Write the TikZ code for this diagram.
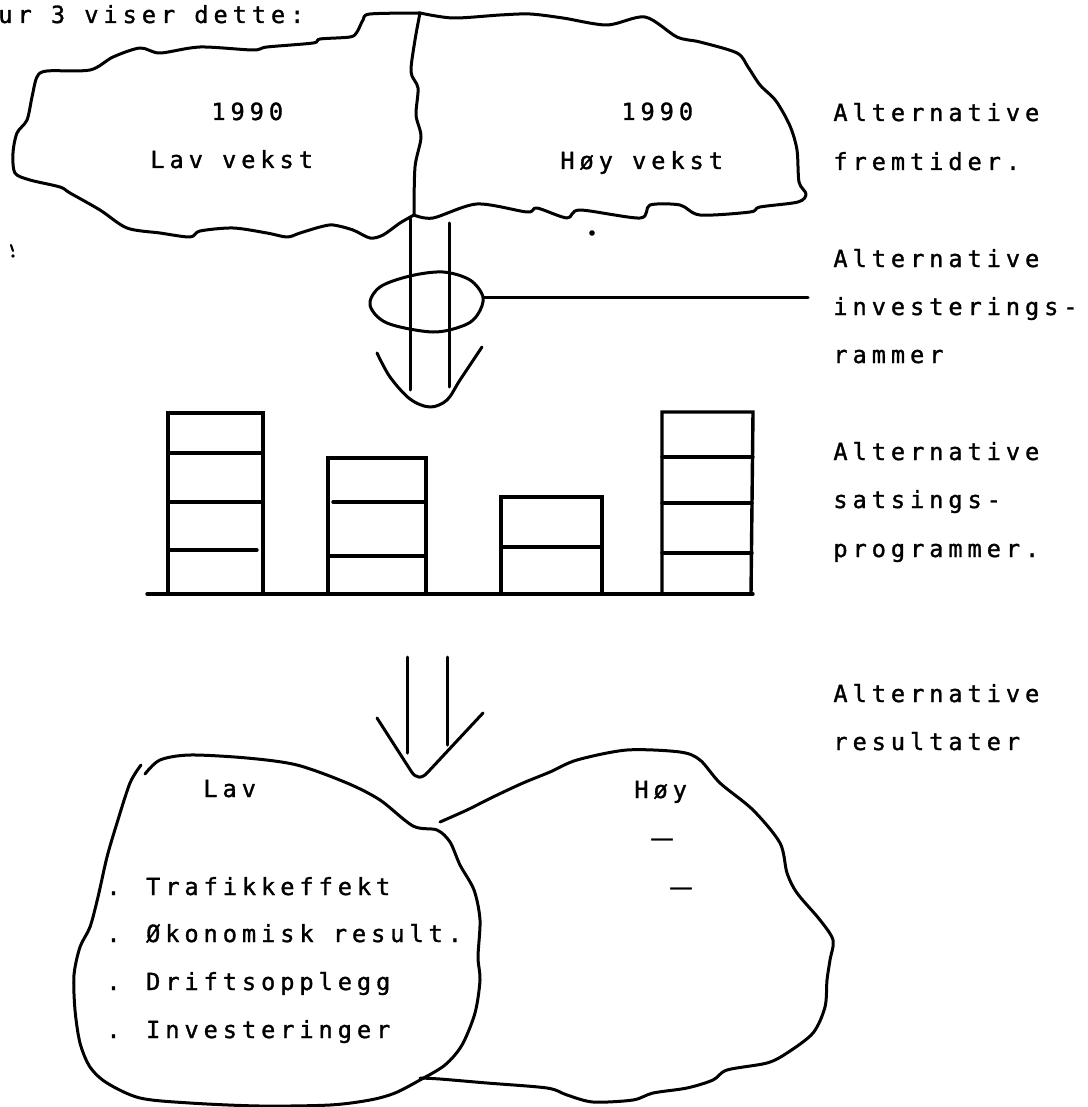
\documentclass[tikz,border=0pt]{standalone}
\usepackage{fontspec}
\newfontfamily\tw[LetterSpace=21,FakeBold=1.3]{DejaVu Sans Mono}
\begin{document}
\begin{tikzpicture}[x=0.5pt,y=-0.5pt,
  ink/.style={line width=1.5pt, line join=round, line cap=round},
  bar/.style={line width=1.7pt, line cap=round},
  txt/.style={font=\tw\fontsize{11.8pt}{14pt}\selectfont, anchor=base west, inner sep=0pt, text=black}]
\useasboundingbox (0,0) rectangle (1087,1107);
\fill[white] (0,0) rectangle (1087,1107);

% ---------- heading ----------
\node[txt] (head) at (-2,23) {ur 3 viser dette:};

% ---------- top blob (alternative futures) ----------
\draw[ink] plot[smooth, tension=0.5] coordinates {(420,13) (370,14) (363,20) (357,32) (350,37) (320,39) (313,43) (267,47) (253,50) (200,47) (160,53) (140,48) (113,57) (90,70) (47,71) (37,77) (32,97) (27,120) (17,133) (13,153) (15,173) (30,180) (60,187) (70,193) (100,210) (127,228) (160,233) (190,237) (200,231) (233,228) (267,233) (287,237) (300,233) (320,227) (333,225) (353,230) (370,238) (383,235) (400,223) (414,215)};
\draw[ink] plot[smooth, tension=0.5] coordinates {(420,13) (453,18) (500,15) (530,14) (563,18) (607,25) (645,17) (677,37) (700,42) (737,53) (748,67) (760,85) (776,101) (790,126) (797,150) (799,182) (806,194) (798,202) (760,207) (750,212) (700,215) (680,205) (650,205) (640,218) (580,210) (567,218) (537,208) (527,212) (477,204) (433,218) (414,215)};
\draw[ink] plot[smooth, tension=0.5] coordinates {(420,13) (415,40) (411,72) (418,88) (416,115) (421,137) (415,167) (414,214)};

\node[txt] (y1) at (211,120) {1990};
\node[txt] (lv) at (150,168) {Lav vekst};
\node[txt] (y2) at (621,120) {1990};
\node[txt] (hv) at (560,169) {Høy vekst};

% specks
\fill (592,233) circle[radius=1.4pt];
\draw[line width=1.1pt, line cap=round] (11,245) -- (13,251);
\fill (13,256) circle[radius=0.9pt];

% ---------- first double arrow with investment frame ----------
\coordinate (a1s) at (410,217); \coordinate (a1e) at (410,390);
\coordinate (a2s) at (449,223); \coordinate (a2e) at (449,387);
\draw[ink] (a1s) -- (a1e);
\draw[ink] (a2s) -- (a2e);
\coordinate (tip) at (483,297);
\coordinate (lend) at (808,297);
\draw[ink] plot[smooth cycle, tension=0.55] coordinates {(483,297) (470,280) (443,272) (410,276) (380,287) (370,305) (387,323) (433,332) (465,325) (478,314)};
\draw[ink] (tip) -- (lend);
\draw[ink] plot[smooth, tension=0.55] coordinates {(377,353) (390,377) (410,399) (430,407) (447,400) (460,380) (482,347)};

% ---------- bars ----------
\draw[bar] (147,594) -- (753,594);
% bar 1
\draw[bar] (168,594) -- (168,413) -- (263,413) -- (263,594);
\draw[bar] (168,453) -- (263,453);
\draw[bar] (168,502) -- (263,502);
\draw[bar] (168,550) -- (257,550);
% bar 2
\draw[bar] (328,594) -- (328,458) -- (426,458) -- (426,594);
\draw[bar] (333,502) -- (426,502);
\draw[bar] (328,556) -- (426,556);
% bar 3
\draw[bar] (501,594) -- (501,497) -- (602,497) -- (602,594);
\draw[bar] (501,547) -- (602,547);
% bar 4
\draw[bar] (662,594) -- (662,412) -- (753,412) -- (751,594);
\draw[bar] (662,457) -- (753,457);
\draw[bar] (662,503) -- (752,503);
\draw[bar] (662,553) -- (752,553);

% ---------- second double arrow ----------
\coordinate (b1s) at (407,657); \coordinate (b1e) at (407,753);
\coordinate (b2s) at (447,657); \coordinate (b2e) at (447,745);
\draw[ink] (b1s) -- (b1e);
\draw[ink] (b2s) -- (b2e);
\draw[ink] (377,718) -- (411,771) .. controls (416,779) and (422,779) .. (428,772) -- (483,713);

% ---------- bottom blobs (results) ----------
\draw[ink] plot[smooth, tension=0.5] coordinates {(145,774) (160,760) (190,755) (247,758) (297,765) (347,783) (380,800) (413,826) (437,830) (450,842) (460,865) (474,890) (480,920) (478,957) (480,980) (475,1013) (462,1045) (445,1065) (420,1080) (395,1093) (370,1100) (330,1105) (260,1106) (190,1103) (140,1098) (107,1083) (90,1067) (80,1043) (75,1010) (74,975) (80,947) (90,927) (98,897) (107,857) (117,823) (130,783) (141,765)};
\draw[ink] plot[smooth, tension=0.5] coordinates {(440,822) (467,810) (493,797) (523,783) (550,772) (577,760) (627,750) (680,752) (700,760) (720,783) (753,810) (780,843) (787,873) (797,893) (820,920) (833,940) (830,960) (827,980) (825,1007) (813,1033) (787,1053) (767,1063) (727,1070) (713,1080) (687,1088) (653,1093) (633,1100) (593,1102) (567,1095) (547,1088) (487,1083) (440,1079) (420,1078)};

\node[txt] (lav) at (203,797) {Lav};
\node[txt] (hoy) at (634,798) {Høy};
\node[txt] (d1) at (651,846) {\scalebox{1.5}[1]{–}};
\node[txt] (d2) at (670,895) {\scalebox{1.5}[1]{–}};
\node[txt] (l1) at (106,895) {. Trafikkeffekt};
\node[txt] (l2) at (106,942) {. Økonomisk result.};
\node[txt] (l3) at (106,990) {. Driftsopplegg};
\node[txt] (l4) at (106,1038) {. Investeringer};

% ---------- right column labels ----------
\node[txt] (r1) at (833,121) {Alternative};
\node[txt] (r2) at (833,170) {fremtider.};
\node[txt] (r3) at (833,267) {Alternative};
\node[txt] (r4) at (833,315) {investerings-};
\node[txt] (r5) at (833,363) {rammer};
\node[txt] (r6) at (833,460) {Alternative};
\node[txt] (r7) at (833,508) {satsings-};
\node[txt] (r8) at (833,557) {programmer.};
\node[txt] (r9) at (833,702) {Alternative};
\node[txt] (r10) at (833,750) {resultater};
\end{tikzpicture}
\end{document}
